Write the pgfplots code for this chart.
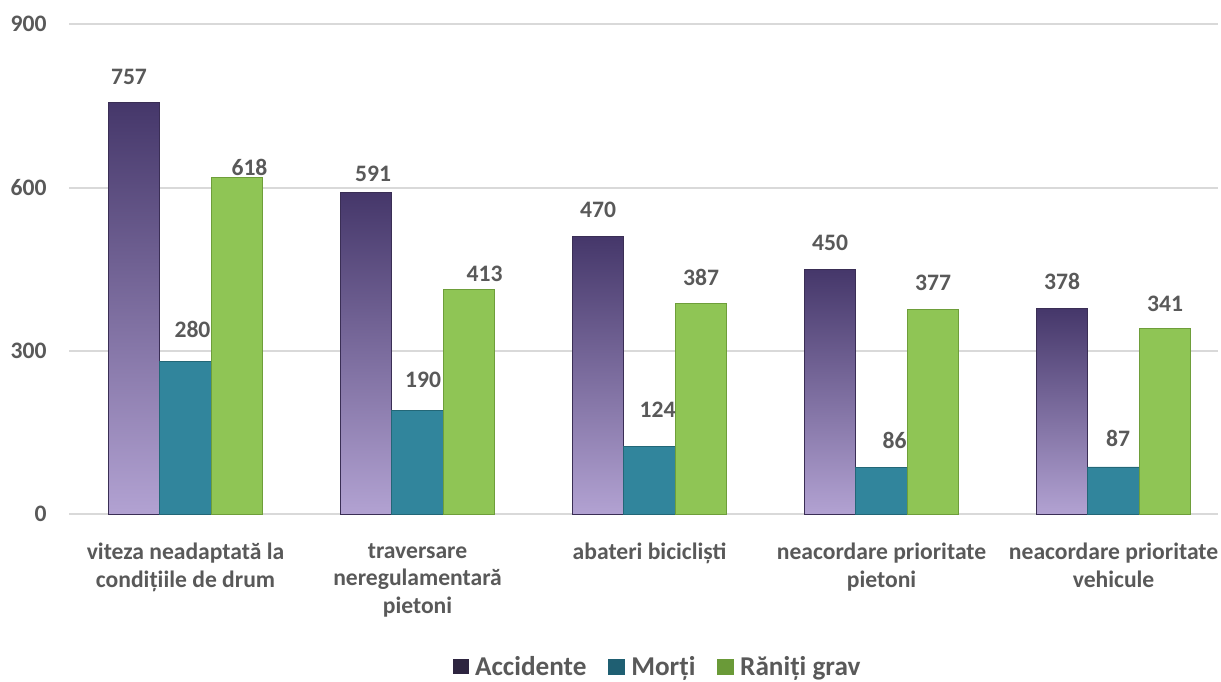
\documentclass[border=0pt]{standalone}
\usepackage{pgfplots}
\usepackage{pgfplotstable}
\pgfplotsset{compat=1.18}
\usepackage{fontspec}
\setmainfont{Carlito}
\definecolor{txt}{HTML}{595959}
\definecolor{gridc}{HTML}{D9D9D9}
\definecolor{ptop}{HTML}{45376A}
\definecolor{pmid}{HTML}{6A5A94}
\definecolor{pbot}{HTML}{B2A2D2}
\definecolor{pedge}{HTML}{3A2E55}
\definecolor{teal}{HTML}{31859C}
\definecolor{tealedge}{HTML}{236777}
\definecolor{grn}{HTML}{8FC555}
\definecolor{grnedge}{HTML}{6E9E3A}
\definecolor{legp}{HTML}{2E2540}
\definecolor{legt}{HTML}{1F5F72}
\definecolor{legg}{HTML}{6A9A38}

\pgfplotstableread{
x y lab dx dy
0 757 757 -2.5 12.5
1 591 591 3.5 9
2 510 470 0 12.75
3 450 450 0 12.75
4 378 378 0 12.75
}\acc
\pgfplotstableread{
x y lab dx dy
0 280 280 3.5 15.75
1 190 190 2.75 15
2 124 124 4 18
3 86 86 6.5 12.75
4 87 87 2.25 13.5
}\mor
\pgfplotstableread{
x y lab dx dy
0 618 618 6.25 4.75
1 413 413 7.75 7.25
2 387 387 0 12.25
3 377 377 0 12.75
4 341 341 0 11.75
}\ran

\pgfplotsset{
  purplebar/.style={ybar, bar shift=-25.75pt, draw=pedge, line width=0.4pt,
    top color=ptop, middle color=pmid, bottom color=pbot,
    legend image code/.code={\pgfsetfillcolor{legp}%
      \pgfpathrectangle{\pgfpoint{0pt}{-3.5pt}}{\pgfpoint{8pt}{7.5pt}}%
      \pgfusepath{fill}}},
}

\begin{document}
\begin{tikzpicture}
\begin{axis}[
  at={(0,0)}, anchor=south west,
  scale only axis, width=574.25pt, height=245pt,
  xmin=-0.5, xmax=4.45, ymin=0, ymax=900,
  axis line style={draw=none},
  tick style={draw=none},
  ytick={0,300,600,900},
  ymajorgrids, grid style={gridc, line width=1pt},
  xtick={0,1,2,3,4},
  xticklabels={{viteza neadaptată la\\condițiile de drum},
    {traversare\\neregulamentară\\pietoni},
    {abateri bicicliști},
    {neacordare prioritate\\pietoni},
    {neacordare prioritate\\vehicule}},
  xticklabel style={align=center, anchor=north, inner sep=0pt, yshift=-10pt,
    font=\fontsize{11.8}{13.8}\selectfont\bfseries, text=txt},
  yticklabel style={anchor=east, inner sep=0pt, xshift=-11.25pt,
    font=\fontsize{11.8}{13.5}\selectfont\bfseries, text=txt},
  /pgf/number format/assume math mode=true,
  ybar=0pt, bar width=25.75pt,
  point meta=explicit symbolic,
  nodes near coords,
  visualization depends on={\thisrow{dx} \as \dx},
  visualization depends on={\thisrow{dy} \as \dy},
  every node near coord/.append style={anchor=south, inner sep=0pt,
    font=\fontsize{11.8}{13.5}\selectfont\bfseries, text=txt,
    xshift=\dx pt, yshift={\dy pt-3.7pt}},
  clip=false,
  legend style={at={(axis description cs:0.5,0)}, anchor=center,
    xshift=7pt, yshift=-76.5pt, draw=none, fill=none,
    font=\fontsize{13.6}{15}\selectfont\bfseries, text=txt,
    column sep=2pt,
    /tikz/every even column/.append style={column sep=10pt},
    nodes={inner sep=1pt}},
  legend columns=-1,
]
\addplot[purplebar] table[x=x, y=y, meta=lab, restrict x to domain=0:0] {\acc};
\addlegendentry{Accidente}
\addplot[purplebar, forget plot] table[x=x, y=y, meta=lab, restrict x to domain=1:1] {\acc};
\addplot[purplebar, forget plot] table[x=x, y=y, meta=lab, restrict x to domain=2:2] {\acc};
\addplot[purplebar, forget plot] table[x=x, y=y, meta=lab, restrict x to domain=3:3] {\acc};
\addplot[purplebar, forget plot] table[x=x, y=y, meta=lab, restrict x to domain=4:4] {\acc};
\addplot[ybar, bar shift=0pt, draw=tealedge, line width=0.4pt, fill=teal,
  legend image code/.code={\fill[legt] (0pt,-3.5pt) rectangle (8pt,4pt);}]
  table[x=x, y=y, meta=lab] {\mor};
\addlegendentry{Morți}
\addplot[ybar, bar shift=25.75pt, draw=grnedge, line width=0.4pt, fill=grn,
  legend image code/.code={\fill[legg] (0pt,-3.5pt) rectangle (8pt,4pt);}]
  table[x=x, y=y, meta=lab] {\ran};
\addlegendentry{Răniți grav}
\end{axis}
\pgfresetboundingbox
\path (-34.75pt,-83.35pt) rectangle (575.75pt,257.15pt);
\end{tikzpicture}
\end{document}
